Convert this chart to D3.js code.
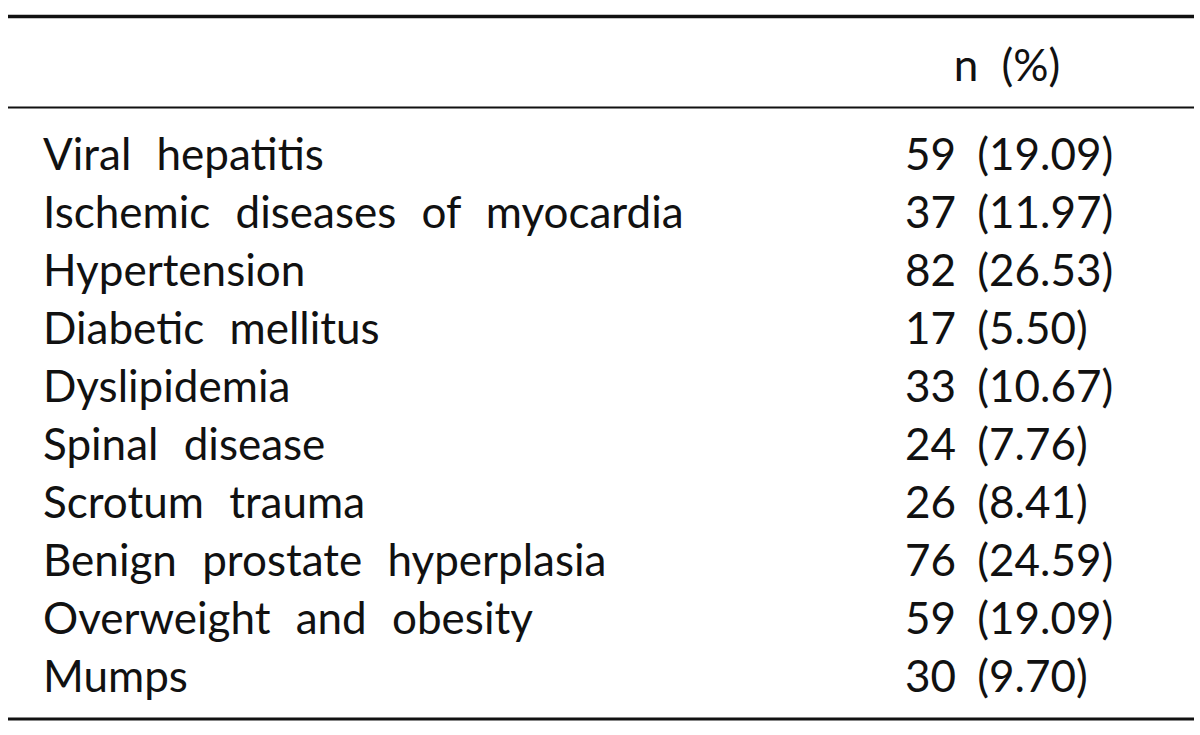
<!DOCTYPE html>
<html>

<head>
    <meta charset="utf-8">
    <script src="https://d3js.org/d3.v7.min.js"></script>
    <style>
        body { margin: 0; background: #fff; }
        text { font-family: Lato, "Open Sans", sans-serif; fill: #111; }
    </style>
</head>

<body>
    <script>
        let width = 1200;
        let height = 735;

        // table contents
        let categories = [
            "Viral hepatitis",
            "Ischemic diseases of myocardia",
            "Hypertension",
            "Diabetic mellitus",
            "Dyslipidemia",
            "Spinal disease",
            "Scrotum trauma",
            "Benign prostate hyperplasia",
            "Overweight and obesity",
            "Mumps"
        ];
        let counts = [59, 37, 82, 17, 33, 24, 26, 76, 59, 30];
        let percents = [19.09, 11.97, 26.53, 5.50, 10.67, 7.76, 8.41, 24.59, 19.09, 9.70];
        let header = "n (%)";

        let rows = categories.map((c, i) => ({ name: c, n: counts[i], pct: percents[i] }));
        let fmt = d3.format(".2f");

        let svg = d3.select("body").append("svg")
            .attr("width", width)
            .attr("height", height);

        // row baselines
        let y = d3.scalePoint()
            .domain(categories)
            .range([170, 692]);

        // rules: top, under header, bottom
        let rules = [
            { y: 16.5, w: 3.5 },
            { y: 107.5, w: 2 },
            { y: 719, w: 3 }
        ];
        svg.selectAll("line.rule")
            .data(rules)
            .join("line")
            .attr("class", "rule")
            .attr("x1", 8)
            .attr("x2", 1194)
            .attr("y1", d => d.y)
            .attr("y2", d => d.y)
            .style("stroke", "#111")
            .style("stroke-width", d => d.w);

        svg.append("text")
            .attr("x", 1007)
            .attr("y", 81)
            .attr("text-anchor", "middle")
            .style("font-size", "44px")
            .style("word-spacing", "12px")
            .text(header);

        svg.selectAll("text.name")
            .data(rows)
            .join("text")
            .attr("class", "name")
            .attr("x", 43)
            .attr("y", d => y(d.name))
            .style("font-size", "44px")
            .style("word-spacing", "14px")
            .text(d => d.name);

        svg.selectAll("text.val")
            .data(rows)
            .join("text")
            .attr("class", "val")
            .attr("x", 905)
            .attr("y", d => y(d.name))
            .style("font-size", "44px")
            .style("word-spacing", "10px")
            .text(d => d.n + " (" + fmt(d.pct) + ")");
    </script>
</body>

</html>
